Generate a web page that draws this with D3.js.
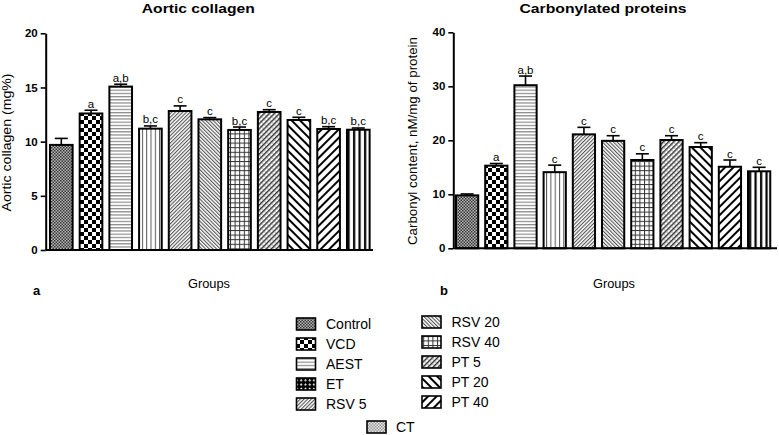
<!DOCTYPE html>
<html><head><meta charset="utf-8">
<script src="https://cdn.jsdelivr.net/npm/d3@7"></script>
<style>body{margin:0;background:#fff}svg{display:block;font-family:"Liberation Sans",Arial,sans-serif}</style>
</head><body><svg id="c" width="779" height="435"></svg>
<script>
const groups = ["Control","VCD","AEST","ET","RSV 5","RSV 20","RSV 40","PT 5","PT 20","PT 40","CT"];
const collagenMean = [9.7,12.6,15.08,11.2,12.83,12.06,11.08,12.74,12.0,11.17,11.1];
const collagenErr  = [0.6,0.3,0.22,0.25,0.47,0.16,0.27,0.21,0.25,0.21,0.16];
const collagenSig  = ["","a","a,b","b,c","c","c","b,c","c","c","b,c","b,c"];
const carbonylMean = [9.8,15.3,30.2,14.1,21.1,19.9,16.35,20.05,18.76,15.1,14.26];
const carbonylErr  = [0.26,0.4,1.7,1.3,1.3,0.95,1.15,0.8,0.8,1.25,0.74];
const carbonylSig  = ["","a","a,b","c","c","c","c","c","c","c","c"];
const collagenTicks = [0,5,10,15,20];
const carbonylTicks = [0,10,20,30,40];
const legendCol1 = ["Control","VCD","AEST","ET","RSV 5"];
const legendCol2 = ["RSV 20","RSV 40","PT 5","PT 20","PT 40"];
const legendCol3 = ["CT"];

const svg = d3.select("#c");
const defs = svg.append("defs");
function pat(id, w, h, build, transform){
  const p = defs.append("pattern").attr("id",id).attr("patternUnits","userSpaceOnUse")
    .attr("width",w).attr("height",h);
  if(transform) p.attr("patternTransform",transform);
  p.append("rect").attr("width",w).attr("height",h).attr("fill","#fff");
  build(p);
}
// Control: fine checker
pat("p0",3,3,p=>{p.append("rect").attr("width",3).attr("height",3).attr("fill","#b8b8b8");
  p.append("rect").attr("width",1.5).attr("height",1.5).attr("fill","#333");
  p.append("rect").attr("x",1.5).attr("y",1.5).attr("width",1.5).attr("height",1.5).attr("fill","#333");});
// VCD: checker
pat("p1",8,8,p=>{p.append("rect").attr("width",4).attr("height",4).attr("fill","#000");
  p.append("rect").attr("x",4).attr("y",4).attr("width",4).attr("height",4).attr("fill","#000");});
// AEST: horizontal gray lines
pat("p2",4,3.2,p=>{p.append("rect").attr("y",0).attr("width",4).attr("height",1.2).attr("fill","#888");});
// ET: vertical thin lines
pat("p3",4.3,4,p=>{p.append("rect").attr("x",0).attr("width",1).attr("height",4).attr("fill","#555");});
// RSV 5: fine / diagonals
pat("p4",2.6,4,p=>{p.append("rect").attr("width",1.1).attr("height",4).attr("fill","#555");},"rotate(45)");
// RSV 20: fine \ diagonals
pat("p5",2.6,4,p=>{p.append("rect").attr("width",1.1).attr("height",4).attr("fill","#555");},"rotate(-45)");
// RSV 40: grid
pat("p6",4.6,4.6,p=>{p.append("rect").attr("width",4.6).attr("height",1).attr("fill","#333");
  p.append("rect").attr("width",1).attr("height",4.6).attr("fill","#333");});
// PT 5: / diagonals with cross dots
pat("p7",3.6,3.6,p=>{p.append("rect").attr("width",1.4).attr("height",3.6).attr("fill","#333");
  p.append("rect").attr("x",1.4).attr("y",1.5).attr("width",2.2).attr("height",0.8).attr("fill","#999");},"rotate(45)");
// PT 20: bold \ diagonals
pat("p8",6,6,p=>{p.append("rect").attr("width",2).attr("height",6).attr("fill","#000");},"rotate(-45)");
// PT 40: bold / diagonals
pat("p9",6,6,p=>{p.append("rect").attr("width",2).attr("height",6).attr("fill","#000");},"rotate(45)");
// CT: bold vertical lines
pat("p10",5.5,4,p=>{p.append("rect").attr("x",1).attr("width",2.2).attr("height",4).attr("fill","#000");});
// legend-only variants
pat("pET",6,6,p=>{p.append("rect").attr("width",6).attr("height",6).attr("fill","#000");
  p.append("rect").attr("x",1).attr("y",1).attr("width",1.8).attr("height",1.8).attr("fill","#fff");
  p.append("rect").attr("x",4).attr("y",4).attr("width",1.8).attr("height",1.8).attr("fill","#fff");},"rotate(45)");
pat("pCT",3,3,p=>{p.append("rect").attr("width",3).attr("height",3).attr("fill","#e4e4e4");
  p.append("rect").attr("width",1.5).attr("height",1.5).attr("fill","#999");
  p.append("rect").attr("x",1.5).attr("y",1.5).attr("width",1.5).attr("height",1.5).attr("fill","#999");});

const fillFor = (i)=>`url(#p${i})`;
const legendFill = {"ET":"url(#pET)","CT":"url(#pCT)"};

function panel(opts){
  const g = svg.append("g");
  const x = d3.scaleBand().domain(groups).range(opts.xr).paddingInner(0.17).paddingOuter(opts.po);
  const y = d3.scaleLinear().domain(opts.yd).range(opts.yr);
  const data = groups.map((k,i)=>({k,i,m:opts.mean[i],e:opts.err[i],s:opts.sig[i]}));
  const eb = g.append("g").attr("stroke","#000").attr("stroke-width",1.6);
  eb.selectAll("line.v").data(data).join("line")
    .attr("x1",d=>x(d.k)+x.bandwidth()/2).attr("x2",d=>x(d.k)+x.bandwidth()/2)
    .attr("y1",d=>y(d.m)).attr("y2",d=>y(d.m+d.e));
  eb.selectAll("line.h").data(data).join("line").attr("class","h")
    .attr("x1",d=>x(d.k)+x.bandwidth()/2-6.5).attr("x2",d=>x(d.k)+x.bandwidth()/2+6.5)
    .attr("y1",d=>y(d.m+d.e)).attr("y2",d=>y(d.m+d.e));
  g.selectAll("rect.bar").data(data).join("rect").attr("class","bar")
    .attr("x",d=>x(d.k)+1).attr("width",x.bandwidth()-2)
    .attr("y",d=>y(d.m)).attr("height",d=>y(0)-y(d.m))
    .attr("fill",d=>fillFor(d.i)).attr("stroke","#000").attr("stroke-width",2);
  g.selectAll("text.sig").data(data).join("text").attr("class","sig")
    .attr("x",d=>x(d.k)+x.bandwidth()/2).attr("y",d=>y(d.m+d.e)-2.5)
    .attr("text-anchor","middle").attr("font-size",11.5).text(d=>d.s);
  const ya = g.append("g").attr("transform",`translate(${opts.ax},0)`)
    .call(d3.axisLeft(y).tickValues(opts.ticks).tickSize(5).tickSizeOuter(0));
  ya.select(".domain").attr("stroke-width",2);
  ya.selectAll(".tick line").attr("stroke-width",1.6);
  ya.selectAll("text").attr("font-size",11.5).attr("font-weight","bold").attr("fill","#000")
    .attr("font-family","Liberation Sans, Arial, sans-serif");
  g.append("line").attr("x1",opts.ax).attr("x2",opts.xend).attr("y1",y(0)).attr("y2",y(0))
    .attr("stroke","#000").attr("stroke-width",2);
  g.append("text").attr("x",opts.tx).attr("y",12.5).attr("text-anchor","middle")
    .attr("font-size",13).attr("font-weight","bold")
    .attr("textLength",opts.tlen).attr("lengthAdjust","spacingAndGlyphs").text(opts.title);
  g.append("text").attr("transform",`translate(${opts.ylx},${opts.yly}) rotate(-90)`)
    .attr("text-anchor","middle").attr("font-size",12.5)
    .attr("textLength",opts.ylen).attr("lengthAdjust","spacingAndGlyphs").text(opts.ylabel);
  g.append("text").attr("x",opts.gx).attr("y",288.3).attr("text-anchor","middle")
    .attr("font-size",13).attr("textLength",42).attr("lengthAdjust","spacingAndGlyphs").text("Groups");
  g.append("text").attr("x",opts.lx).attr("y",294.5).attr("font-size",13)
    .attr("font-weight","bold").text(opts.letter);
}

panel({xr:[47.5,372.1],po:0.05,yd:[0,20],yr:[250,33.3],mean:collagenMean,err:collagenErr,sig:collagenSig,
  ticks:collagenTicks,ax:45.7,xend:373,tx:198.3,tlen:113,title:"Aortic collagen",ylabel:"Aortic collagen (mg%)",
  ylx:11,yly:142.5,ylen:138,gx:209,lx:33,letter:"a"});
panel({xr:[453.25,773],po:0.06,yd:[0,40],yr:[248.3,32.3],mean:carbonylMean,err:carbonylErr,sig:carbonylSig,
  ticks:carbonylTicks,ax:453.3,xend:777,tx:603,tlen:167,title:"Carbonylated proteins",ylabel:"Carbonyl content, nM/mg of protein",
  ylx:416.5,yly:141,ylen:208,gx:614,lx:440,letter:"b"});

function legendCol(items, sx, tx, y0){
  const lg = svg.append("g");
  items.forEach((k,j)=>{
    const i = groups.indexOf(k);
    const yy = y0 + j*20;
    lg.append("rect").attr("x",sx).attr("y",yy-6).attr("width",19).attr("height",12)
      .attr("fill",legendFill[k]||fillFor(i)).attr("stroke","#000").attr("stroke-width",1.6);
    lg.append("text").attr("x",tx).attr("y",yy+5).attr("font-size",14).text(k);
  });
}
legendCol(legendCol1,296.5,326,324);
legendCol(legendCol2,422,451.5,322);
legendCol(legendCol3,367,396,427);
</script></body></html>
